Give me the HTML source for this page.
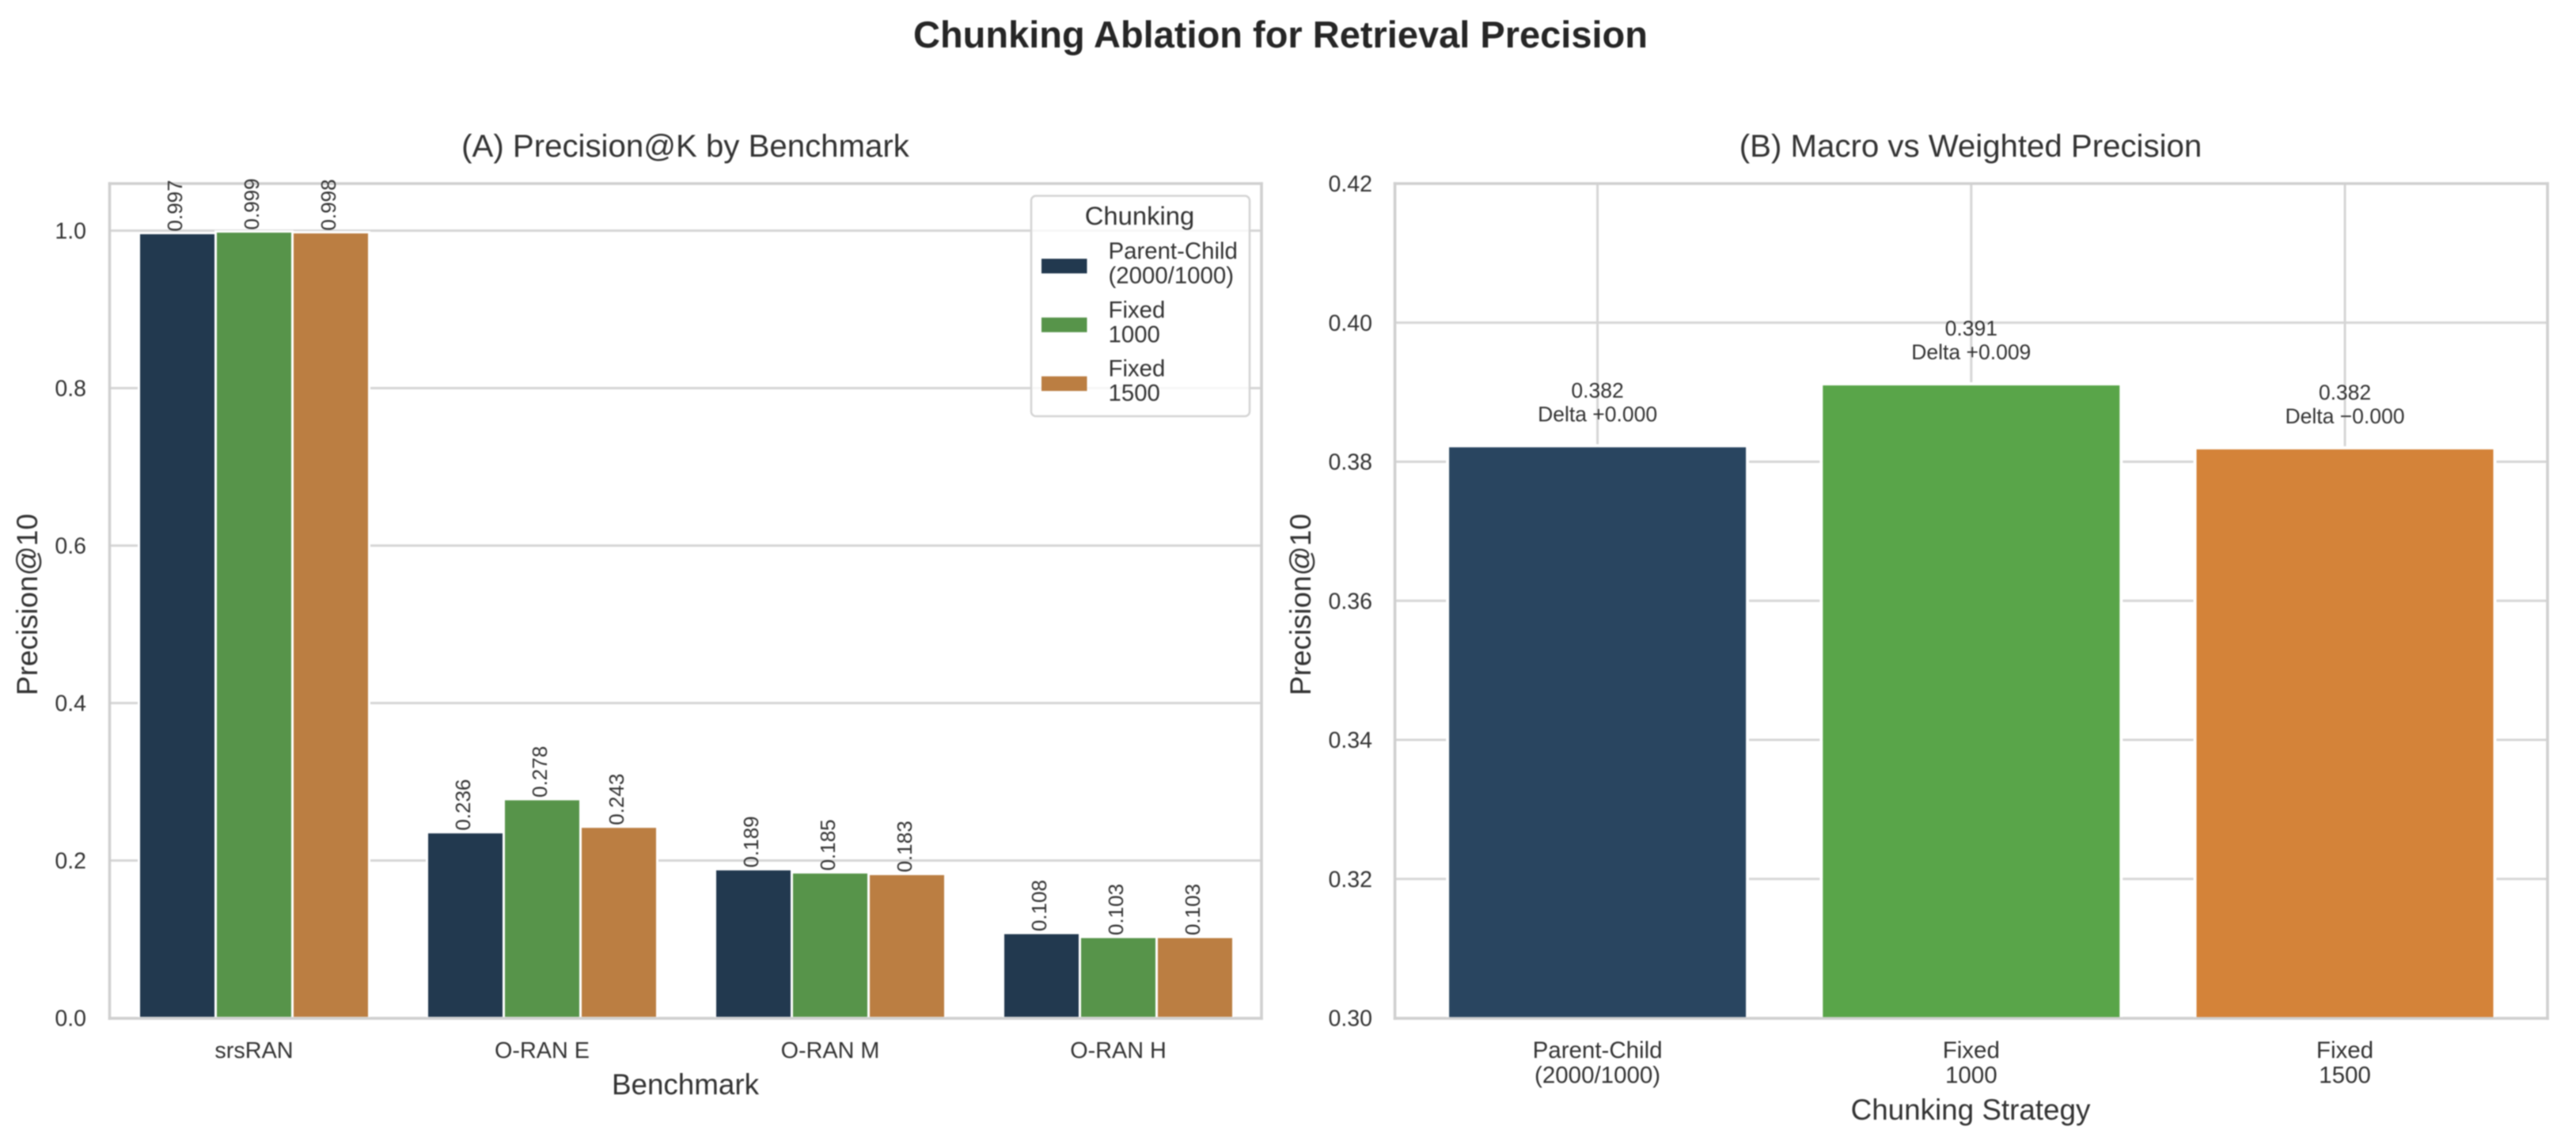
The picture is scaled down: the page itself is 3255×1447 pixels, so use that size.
<!DOCTYPE html>
<html lang="en">
<head>
<meta charset="utf-8">
<title>Chunking Ablation for Retrieval Precision</title>
<style>
  html, body { margin: 0; padding: 0; background: #ffffff; }
  body { width: 3255px; height: 1447px; overflow: hidden; }
  svg { display: block; filter: blur(0.75px); }
  text { font-family: "Liberation Sans", Arial, sans-serif; fill: #333333; }
</style>
</head>
<body>
<svg id="chart" xmlns="http://www.w3.org/2000/svg" width="3255" height="1447" viewBox="0 0 3255 1447">
  <rect x="0" y="0" width="3255" height="1447" fill="#ffffff"/>
  <text x="1618" y="60" font-size="47" font-weight="700" text-anchor="middle" style="fill:#262626">Chunking Ablation for Retrieval Precision</text>
  <text x="866" y="198" font-size="40.2" text-anchor="middle">(A) Precision@K by Benchmark</text>
  <text x="2490" y="198" font-size="40.2" text-anchor="middle">(B) Macro vs Weighted Precision</text>
  <text x="866" y="1383" font-size="36.8" text-anchor="middle">Benchmark</text>
  <text x="2490" y="1415" font-size="36.8" text-anchor="middle">Chunking Strategy</text>
  <text transform="translate(47 764) rotate(-90)" font-size="36.8" text-anchor="middle">Precision@10</text>
  <text transform="translate(1656 764) rotate(-90)" font-size="36.8" text-anchor="middle">Precision@10</text>
  <g id="panel-a"></g>
  <g id="panel-b"></g>
  <g id="legend"></g>
</svg>
<script>
// Panel A data
const benchmarks = ["srsRAN", "O-RAN E", "O-RAN M", "O-RAN H"];
const parentChildPrecision = [0.997, 0.236, 0.189, 0.108];
const fixed1000Precision = [0.999, 0.278, 0.185, 0.103];
const fixed1500Precision = [0.998, 0.243, 0.183, 0.103];
const panelATicks = [0.0, 0.2, 0.4, 0.6, 0.8, 1.0];
const panelATickLabels = ["0.0", "0.2", "0.4", "0.6", "0.8", "1.0"];

// Panel B data
const strategyLines = [["Parent-Child", "(2000/1000)"], ["Fixed", "1000"], ["Fixed", "1500"]];
const macroPrecision = [0.3823, 0.3912, 0.3820];
const panelBTicks = [0.30, 0.32, 0.34, 0.36, 0.38, 0.40, 0.42];
const panelBTickLabels = ["0.30", "0.32", "0.34", "0.36", "0.38", "0.40", "0.42"];

// Legend data
const legendTitle = "Chunking";
const legendEntries = [["Parent-Child", "(2000/1000)"], ["Fixed", "1000"], ["Fixed", "1500"]];

const SVG_NS = "http://www.w3.org/2000/svg";
const seriesA = [parentChildPrecision, fixed1000Precision, fixed1500Precision];
const coloursA = ["#22394f", "#57944a", "#bb7e42"];
const coloursB = ["#26435e", "#57a447", "#d38237"];
const GRID = "#d6d6d6";
const SPINE = "#d0d0d0";

const A = { left: 138.5, right: 1594, top: 232, bottom: 1287 };
const B = { left: 1762.6, right: 3219, top: 232, bottom: 1287 };
const yA = v => 1286.5 - 995 * v;
const xA = i => 321 + 364 * i;
const yB = v => 1286.5 - 8787.5 * (v - 0.30);
const xB = i => 2018.6 + 472.2 * i;

function make(parent, tag, attrs, text) {
  const el = document.createElementNS(SVG_NS, tag);
  for (const k in attrs) el.setAttribute(k, attrs[k]);
  if (text !== undefined) el.textContent = text;
  parent.appendChild(el);
  return el;
}

function drawSpines(g, box, prefix) {
  const sides = [
    ["left", box.left, box.top, box.left, box.bottom],
    ["right", box.right, box.top, box.right, box.bottom],
    ["top", box.left, box.top, box.right, box.top],
    ["bottom", box.left, box.bottom, box.right, box.bottom]
  ];
  sides.forEach(s => {
    const el = make(g, "line", { x1: s[1], y1: s[2], x2: s[3], y2: s[4], stroke: SPINE, "stroke-width": 3.6, "stroke-linecap": "square" });
    
    
  });
}

// ---------- Panel A ----------
(function () {
  const g = document.getElementById("panel-a");
  const bandW = 97;
  panelATicks.forEach((t, i) => {
    const y = yA(t);
    const line = make(g, "line", { x1: A.left, y1: y, x2: A.right, y2: y, stroke: GRID, "stroke-width": 3 });
    
    
    const label = make(g, "text", { x: 109, y: y + 10, "font-size": 28.5, "text-anchor": "end" }, panelATickLabels[i]);
    
    
  });
  benchmarks.forEach((name, i) => {
    seriesA.forEach((vals, j) => {
      const cx = xA(i) + (j - 1) * bandW;
      const top = yA(vals[i]);
      const bar = make(g, "rect", { x: cx - bandW / 2, y: top, width: bandW, height: yA(0) - top, fill: coloursA[j], stroke: "#ffffff", "stroke-width": 3 });
      
      
    });
  });
  drawSpines(g, A, 'panel-a');
  benchmarks.forEach((name, i) => {
    seriesA.forEach((vals, j) => {
      const cx = xA(i) + (j - 1) * bandW;
      const top = yA(vals[i]);
      const lx = cx + 6, ly = top - 2;
      const t = make(g, "text", { x: lx, y: ly, "font-size": 26, transform: "rotate(-90 " + lx + " " + ly + ")" }, vals[i].toFixed(3));
      
      
    });
    const tick = make(g, "text", { x: xA(i), y: 1337, "font-size": 28.8, "text-anchor": "middle" }, name);
    
    
  });
})();

// ---------- Panel B ----------
(function () {
  const g = document.getElementById("panel-b");
  const barW = 379;
  panelBTicks.forEach((t, i) => {
    const y = yB(t);
    const line = make(g, "line", { x1: B.left, y1: y, x2: B.right, y2: y, stroke: GRID, "stroke-width": 3 });
    
    
    const label = make(g, "text", { x: 1734, y: y + 10, "font-size": 28.5, "text-anchor": "end" }, panelBTickLabels[i]);
    
    
  });
  macroPrecision.forEach((v, i) => {
    const line = make(g, "line", { x1: xB(i), y1: B.top, x2: xB(i), y2: B.bottom, stroke: GRID, "stroke-width": 3 });
    
    
  });
  macroPrecision.forEach((v, i) => {
    const top = yB(v);
    const halo = make(g, "rect", { x: xB(i) - barW / 2, y: top, width: barW, height: yB(0.30) - top, fill: "none", stroke: "#ffffff", "stroke-width": 4 });
    
    
    const bar = make(g, "rect", { x: xB(i) - barW / 2 + 2, y: top + 2, width: barW - 4, height: yB(0.30) - top - 2, fill: coloursB[i], "fill-opacity": 0.99 });
    
    

    const delta = v - macroPrecision[0];
    const deltaText = "Delta " + (delta < 0 ? "\u2212" : "+") + Math.abs(delta).toFixed(3);
    const vLabel = make(g, "text", { x: xB(i), y: top - 61, "font-size": 26.5, "text-anchor": "middle" }, v.toFixed(3));
    
    
    const dLabel = make(g, "text", { x: xB(i), y: top - 31, "font-size": 26.5, "text-anchor": "middle" }, deltaText);
    
    

    strategyLines[i].forEach((lineText, k) => {
      const tick = make(g, "text", { x: xB(i), y: 1337 + k * 31.5, "font-size": 29.5, "text-anchor": "middle" }, lineText);
      
      
    });
  });
  drawSpines(g, B, 'panel-b');
})();

// ---------- Legend ----------
(function () {
  const g = document.getElementById("legend");
  const frame = make(g, "rect", { x: 1303, y: 247.5, width: 276, height: 278.5, rx: 6, ry: 6, fill: "#ffffff", "fill-opacity": 0.8, stroke: "#d4d4d4", "stroke-width": 2.5 });
  
  
  const title = make(g, "text", { x: 1440, y: 284, "font-size": 32.8, "text-anchor": "middle" }, legendTitle);
  
  
  legendEntries.forEach((lines, i) => {
    const rowTop = 327 + i * 74.3;
    const patch = make(g, "rect", { x: 1316, y: rowTop, width: 57.5, height: 18.5, fill: coloursA[i] });
    
    
    lines.forEach((txt, k) => {
      const t = make(g, "text", { x: 1400.5, y: rowTop + k * 31, "font-size": 29.4 }, txt);
      
      
    });
  });
})();
</script>
</body>
</html>
